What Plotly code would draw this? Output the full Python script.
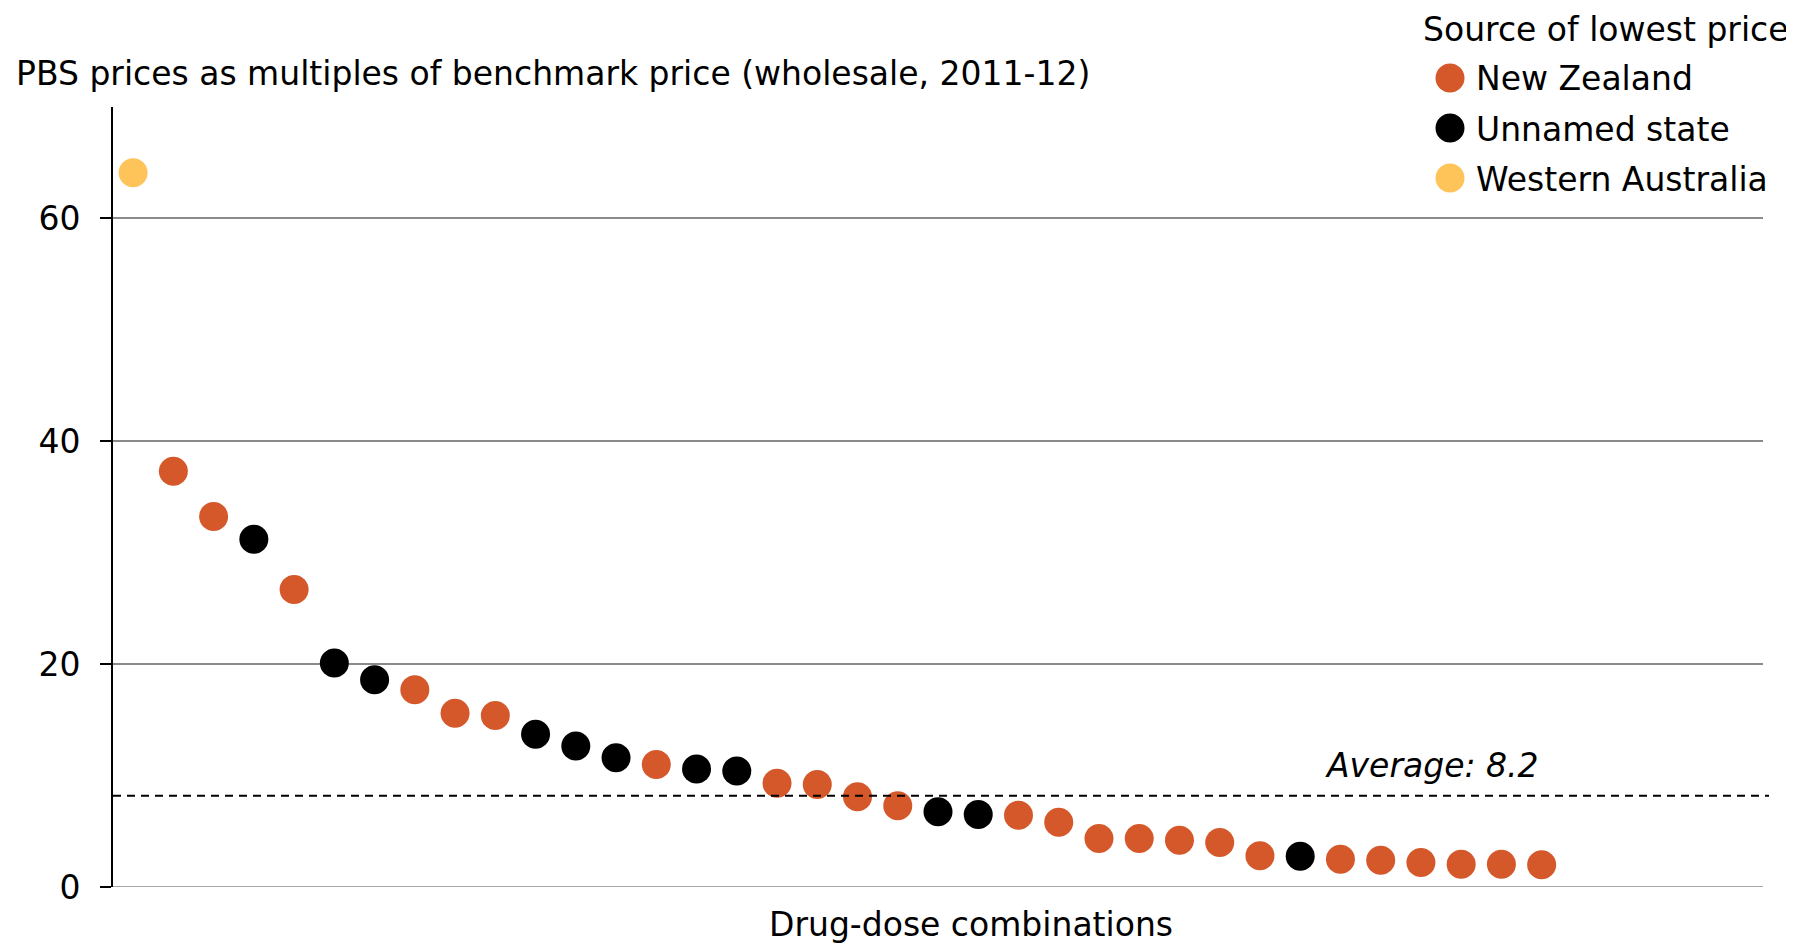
import plotly.graph_objects as go

# ---- data ----
positions = list(range(1, 37))
multiples = [64.1, 37.3, 33.25, 31.2, 26.7, 20.1, 18.6, 17.7, 15.6, 15.4,
             13.7, 12.65, 11.6, 11.0, 10.6, 10.4, 9.3, 9.2, 8.1, 7.3,
             6.75, 6.5, 6.45, 5.8, 4.35, 4.35, 4.2, 4.0, 2.8, 2.75,
             2.5, 2.4, 2.2, 2.05, 2.05, 2.0]
source = ["WA", "NZ", "NZ", "UN", "NZ", "UN", "UN", "NZ", "NZ", "NZ",
          "UN", "UN", "UN", "NZ", "UN", "UN", "NZ", "NZ", "NZ", "NZ",
          "UN", "UN", "NZ", "NZ", "NZ", "NZ", "NZ", "NZ", "NZ", "UN",
          "NZ", "NZ", "NZ", "NZ", "NZ", "NZ"]
source_keys = ["NZ", "UN", "WA"]
source_names = ["New Zealand", "Unnamed state", "Western Australia"]
source_colors = ["#D5582B", "#000000", "#FFC459"]
average = 8.2
y_ticks = [0, 20, 40, 60]

FONT = "DejaVu Sans"
FS = 33

fig = go.Figure()
for key, name, col in zip(source_keys, source_names, source_colors):
    xs = [p for p, s in zip(positions, source) if s == key]
    ys = [v for v, s in zip(multiples, source) if s == key]
    fig.add_trace(go.Scatter(x=xs, y=ys, mode="markers", name=name,
                             marker=dict(size=29, color=col, line=dict(width=0)),
                             showlegend=False))

# page body has an 8px margin: the figure is shifted to compensate
OFF = 8
W, H = 1794 - OFF, 944 - OFF
ml, mr, mt, mb = 113 - OFF, 31, 107 - OFF, 57
pw, ph = W - ml - mr, H - mt - mb

def px(X):
    return (X - OFF - ml) / pw

def py(Y):
    return (H - mb - (Y - OFF)) / ph

annotations = []
shapes = []

# baseline gridline at 0
shapes.append(dict(type="line", xref="paper", yref="y", x0=0, x1=1, y0=0, y1=0,
                   layer="below", line=dict(color="#8a8a8a", width=1.5)))

# average line
shapes.append(dict(type="line", xref="paper", yref="y", x0=0, x1=px(1769),
                   y0=average, y1=average,
                   line=dict(color="black", width=2, dash="8px,6px")))
annotations.append(dict(text=f"Average: {average}", xref="paper", yref="paper",
                        x=px(1541), y=py(765), xanchor="right", yanchor="middle",
                        showarrow=False,
                        font=dict(family=FONT, size=FS, color="black", style="italic")))

# y-axis title
annotations.append(dict(text="PBS prices as multiples of benchmark price (wholesale, 2011-12)",
                        xref="paper", yref="paper", x=px(14), y=py(74),
                        xanchor="left", yanchor="middle", showarrow=False,
                        font=dict(family=FONT, size=FS, color="black")))
# x-axis title
annotations.append(dict(text="Drug-dose combinations", xref="paper", yref="paper",
                        x=px(971), y=py(924), xanchor="center", yanchor="middle",
                        showarrow=False, font=dict(family=FONT, size=FS, color="black")))

# legend (custom, to keep large symbols)
annotations.append(dict(text="Source of lowest price", xref="paper", yref="paper",
                        x=px(1421), y=py(30), xanchor="left", yanchor="middle",
                        showarrow=False, font=dict(family=FONT, size=FS, color="black")))
leg_y = [78, 128, 178]
for name, col, ly in zip(source_names, source_colors, leg_y):
    shapes.append(dict(type="circle", xref="paper", yref="paper",
                       xsizemode="pixel", ysizemode="pixel",
                       xanchor=px(1450), yanchor=py(ly),
                       x0=-14.5, x1=14.5, y0=-14.5, y1=14.5,
                       fillcolor=col, line=dict(width=0)))
    annotations.append(dict(text=name, xref="paper", yref="paper",
                            x=px(1474), y=py(ly + 1), xanchor="left", yanchor="middle",
                            showarrow=False, font=dict(family=FONT, size=FS, color="black")))

fig.update_layout(
    width=W, height=H,
    margin=dict(l=ml, r=mr, t=mt, b=mb, pad=0),
    paper_bgcolor="white", plot_bgcolor="white",
    font=dict(family=FONT, size=FS, color="black"),
    showlegend=False,
    shapes=shapes, annotations=annotations,
    xaxis=dict(range=[0.5, 41.5], showgrid=False, zeroline=False,
               showticklabels=False, ticks="", showline=False, automargin=False),
    yaxis=dict(range=[0, 70], tickvals=y_ticks, ticktext=[str(t) for t in y_ticks],
               showgrid=True, gridcolor="#8a8a8a", gridwidth=1.5,
               zeroline=False, showline=True, linecolor="black", linewidth=2,
               ticks="outside", ticklen=11, tickwidth=2, tickcolor="black",
               ticklabelstandoff=13, automargin=False,
               tickfont=dict(family=FONT, size=FS, color="black")),
)

fig.write_html("out.html")
